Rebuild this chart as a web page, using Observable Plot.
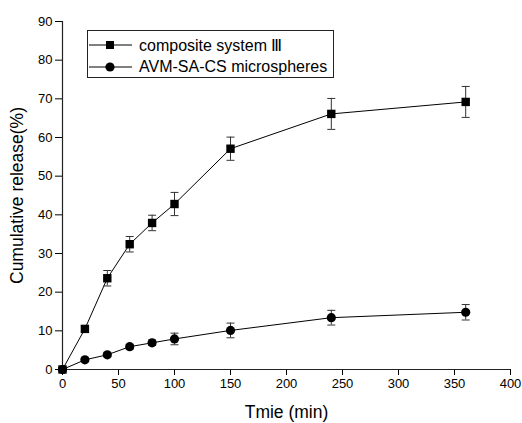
<!DOCTYPE html>
<html>
<head>
<meta charset="utf-8">
<script src="https://cdn.jsdelivr.net/npm/d3@7"></script>
<script src="https://cdn.jsdelivr.net/npm/@observablehq/plot@0.6"></script>
<style>
  html, body { margin: 0; padding: 0; background: #fff; }
  #wrap { position: relative; width: 522px; height: 423px; font-family: "Liberation Sans", Arial, sans-serif; }
  #legend { position: absolute; left: 87px; top: 30px; width: 247px; height: 48px; border: 1px solid #222; background: #fff; box-sizing: border-box; }
  .row { position: absolute; left: 0; height: 22px; display: flex; align-items: center; font-size: 16px; color: #000; white-space: nowrap; }
  .row svg { margin-left: 1px; margin-right: 7px; }
</style>
</head>
<body>
<div id="wrap"></div>
<script>
const times = [0, 20, 40, 60, 80, 100, 150, 240, 360];
const compIII = [0, 10.5, 23.6, 32.4, 37.9, 42.8, 57.1, 66.1, 69.2];
const compIIIErr = [0, 0.8, 2, 2, 2, 3, 3, 4, 4];
const avm = [0, 2.5, 3.8, 5.9, 6.9, 7.9, 10.1, 13.4, 14.8];
const avmErr = [0, 0.5, 0.5, 0.6, 0.7, 1.5, 1.9, 1.9, 2];
const seriesNames = ["composite system \u2162", "AVM-SA-CS microspheres"];
const xTicks = [0, 50, 100, 150, 200, 250, 300, 350, 400];
const yTicks = [0, 10, 20, 30, 40, 50, 60, 70, 80, 90];

const rows = [];
times.forEach((t, i) => {
  rows.push({s: seriesNames[0], x: t, y: compIII[i], e: compIIIErr[i]});
  rows.push({s: seriesNames[1], x: t, y: avm[i], e: avmErr[i]});
});
const sA = rows.filter(d => d.s === seriesNames[0]);
const sB = rows.filter(d => d.s === seriesNames[1]);
const errRows = rows.filter(d => d.e > 0);

const capSymbol = { draw(ctx) { ctx.moveTo(-4, 0); ctx.lineTo(4, 0); } };
const squareSymbol = { draw(ctx) { ctx.rect(-4.2, -4.2, 8.4, 8.4); } };

const chart = Plot.plot({
  width: 522,
  height: 423,
  marginLeft: 62,
  marginRight: 12,
  marginTop: 21,
  marginBottom: 54,
  style: { fontFamily: "'Liberation Sans', Arial, sans-serif", fontSize: "13px", color: "#000", background: "#fff" },
  x: { domain: [0, 400] },
  y: { domain: [0, 90] },
  marks: [
    Plot.axisX({ ticks: xTicks, tickSize: 6, tickPadding: 3, fontSize: 13, label: "Tmie (min)", labelAnchor: "center", labelArrow: "none", labelOffset: 48 }),
    Plot.axisY({ ticks: yTicks, tickSize: 7, tickPadding: 3, fontSize: 13, label: "Cumulative release(%)", labelAnchor: "center", labelArrow: "none", labelOffset: 52 }),
    Plot.ruleX([0], { stroke: "#222", strokeWidth: 1.2 }),
    Plot.ruleY([0], { stroke: "#222", strokeWidth: 1.2 }),
    Plot.line(sA, { x: "x", y: "y", stroke: "#000", strokeWidth: 1 }),
    Plot.line(sB, { x: "x", y: "y", stroke: "#000", strokeWidth: 1 }),
    Plot.ruleX(errRows, { x: "x", y1: d => d.y - d.e, y2: d => d.y + d.e, stroke: "#333", strokeWidth: 1 }),
    Plot.dot(errRows, { x: "x", y: d => d.y + d.e, symbol: capSymbol, stroke: "#333", strokeWidth: 1, fill: "none", r: 4 }),
    Plot.dot(errRows, { x: "x", y: d => d.y - d.e, symbol: capSymbol, stroke: "#333", strokeWidth: 1, fill: "none", r: 4 }),
    Plot.dot(sA, { x: "x", y: "y", symbol: squareSymbol, fill: "#000", stroke: "none", r: 4 }),
    Plot.dot(sB, { x: "x", y: "y", symbol: "circle", fill: "#000", stroke: "none", r: 4.6 })
  ]
});
chart.querySelectorAll("text").forEach(t => t.setAttribute("fill", "#000"));
chart.querySelectorAll('[aria-label="x-axis label"] text, [aria-label="y-axis label"] text').forEach(t => t.style.fontSize = "17.5px");
const wrap = document.getElementById("wrap");
wrap.appendChild(chart);

const legend = document.createElement("div");
legend.id = "legend";
const symSvg = (kind) => {
  const shape = kind === "square"
    ? '<rect x="17" y="7" width="8" height="8" fill="#000"/>'
    : '<circle cx="21" cy="11" r="4.6" fill="#000"/>';
  return '<svg width="43" height="22"><line x1="0" y1="11" x2="43" y2="11" stroke="#000" stroke-width="1"/>' + shape + '</svg>';
};
legend.innerHTML =
  '<div class="row" style="top:3px">' + symSvg("square") + '<span>' + seriesNames[0] + '</span></div>' +
  '<div class="row" style="top:25px">' + symSvg("circle") + '<span>' + seriesNames[1] + '</span></div>';
wrap.appendChild(legend);
</script>
</body>
</html>
